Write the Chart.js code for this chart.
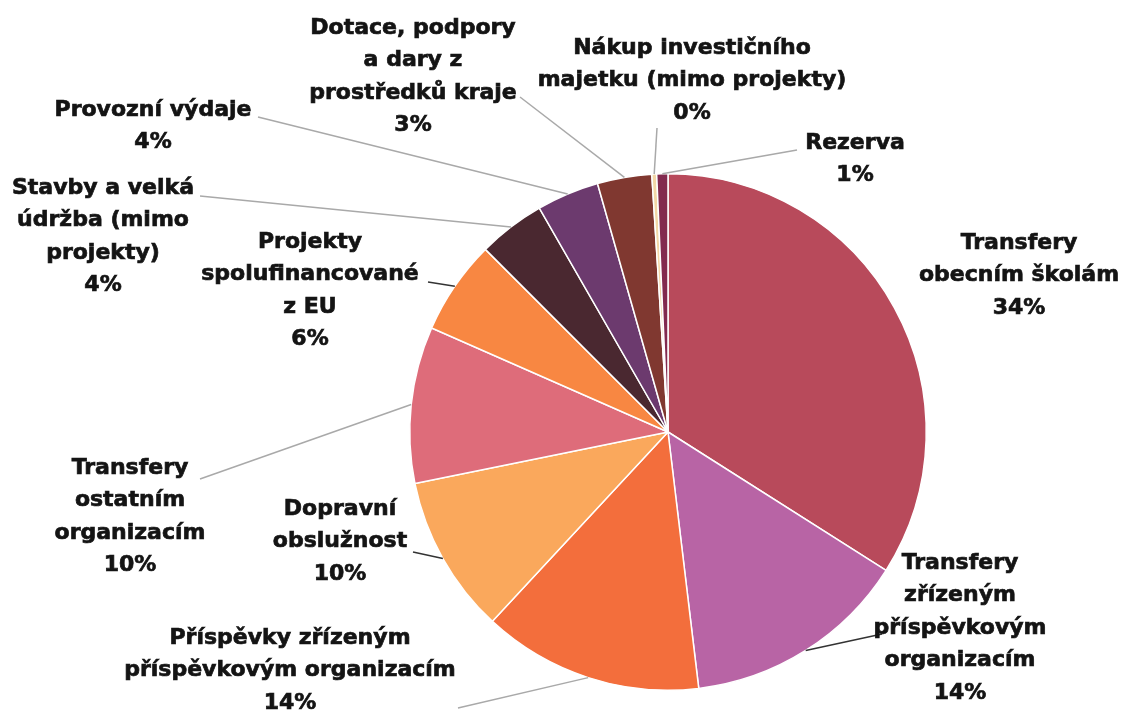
<!DOCTYPE html>
<html lang="cs">
<head>
<meta charset="utf-8">
<title>Výdaje kraje</title>
<script src="https://cdn.jsdelivr.net/npm/chart.js@4.4.1/dist/chart.umd.min.js"></script>
<style>
    html, body { margin: 0; padding: 0; background: #fff; }
    #wrap { width: 1125px; height: 712px; }
</style>
</head>
<body>
<div id="wrap"><canvas id="pieChart"></canvas></div>
<script>
// categories, clockwise from 12 o'clock
const categories = [
    'Transfery\nobecním školám',
    'Transfery\nzřízeným\npříspěvkovým\norganizacím',
    'Příspěvky zřízeným\npříspěvkovým organizacím',
    'Dopravní\nobslužnost',
    'Transfery\nostatním\norganizacím',
    'Projekty\nspolufinancované\nz EU',
    'Stavby a velká\núdržba (mimo\nprojekty)',
    'Provozní výdaje',
    'Dotace, podpory\na dary z\nprostředků kraje',
    'Nákup investičního\nmajetku (mimo projekty)',
    'Rezerva'
];
// share of the budget in percent
const shares = [34.0, 14.1, 13.8, 9.9, 9.8, 5.9, 4.2, 3.9, 3.4, 0.3, 0.7];

const sliceColors = [
    '#b84a5b', '#b864a5', '#f36e3c', '#faa85c', '#de6c7a', '#f88742',
    '#4a2830', '#6c3a6e', '#803830', '#f2d7a6', '#822a4f'
];

// where each label sits: centre x, y of first line, label end of leader line
const labelPlaces = [
    { x: 1019, y: 243, line: null },
    { x: 960, y: 563, line: [882, 634], dark: true },
    { x: 290, y: 638, line: [458, 708] },
    { x: 340, y: 509, line: [413, 552], dark: true },
    { x: 130, y: 468, line: [200, 479] },
    { x: 310, y: 242, line: [428, 282], dark: true },
    { x: 103, y: 188, line: [200, 196] },
    { x: 153, y: 110, line: [258, 117] },
    { x: 413, y: 28, line: [520, 97] },
    { x: 692, y: 48, line: [657, 128] },
    { x: 855, y: 143, line: [797, 150] }
];

const LINE_HEIGHT = 32.5;

const calloutPlugin = {
    id: 'callouts',
    afterDraw(chart) {
        const ctx = chart.ctx;
        const arcs = chart.getDatasetMeta(0).data;
        const total = shares.reduce((a, b) => a + b, 0);

        ctx.save();
        arcs.forEach((arc, i) => {
            const place = labelPlaces[i];
            const mid = (arc.startAngle + arc.endAngle) / 2;
            const ax = arc.x + Math.cos(mid) * arc.outerRadius;
            const ay = arc.y + Math.sin(mid) * arc.outerRadius;

            if (place.line) {
                ctx.beginPath();
                ctx.moveTo(place.line[0], place.line[1]);
                ctx.lineTo(ax, ay);
                ctx.lineWidth = 1.5;
                ctx.strokeStyle = place.dark ? '#333333' : '#a9a9a9';
                ctx.stroke();
            }

            const lines = categories[i].split('\n');
            lines.push(Math.round(shares[i] / total * 100) + '%');
            ctx.font = 'bold 22px "DejaVu Sans"';
            ctx.fillStyle = '#141414';
            ctx.strokeStyle = '#141414';
            ctx.lineWidth = 0.7;
            ctx.textAlign = 'center';
            ctx.textBaseline = 'middle';
            lines.forEach((text, k) => {
                const ty = place.y + k * LINE_HEIGHT;
                ctx.fillText(text, place.x, ty);
                ctx.strokeText(text, place.x, ty);
            });
        });
        ctx.restore();
    }
};

const ctx = document.getElementById('pieChart').getContext('2d');
const chart = new Chart(ctx, {
    type: 'pie',
    data: {
        labels: categories.map(c => c.replace(/\n/g, ' ')),
        datasets: [{
            data: shares,
            backgroundColor: sliceColors,
            borderColor: '#ffffff',
            borderWidth: 1.5,
            hoverOffset: 0
        }]
    },
    options: {
        responsive: true,
        maintainAspectRatio: false,
        animation: false,
        layout: {
            padding: { top: 173, bottom: 21, left: 409, right: 198 }
        },
        plugins: {
            legend: { display: false },
            tooltip: { enabled: false }
        }
    },
    plugins: [calloutPlugin]
});
</script>
</body>
</html>
